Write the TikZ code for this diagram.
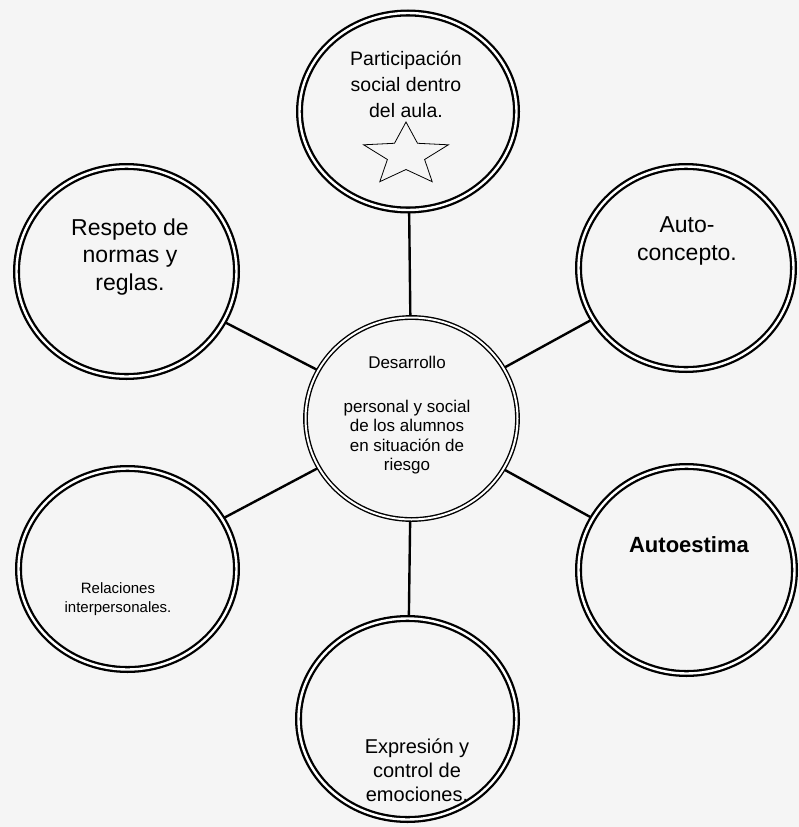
\documentclass[tikz,border=0pt]{standalone}
\usepackage{fontspec}
\setmainfont{Liberation Sans}
\usetikzlibrary{shapes.geometric}

\begin{document}
\begin{tikzpicture}[x=1pt, y=-1pt,
    ring/.style={draw, ellipse, line width=2.3pt, double=white, double distance=2.4pt,
      inner sep=0pt, outer sep=2.4pt},
    hub/.style={draw, ellipse, line width=1.4pt, double=white, double distance=2pt,
      inner sep=0pt, outer sep=2pt},
    spoke/.style={line width=2.4pt},
    lbl/.style={align=center, anchor=base, inner sep=0pt}]

  % page
  \fill[black!4] (0,0) rectangle (799,827);
  \useasboundingbox (0,0) rectangle (799,827);

  % rings
  \node[hub, minimum width=212pt, minimum height=202pt] (hub) at (411.5,418.5) {};
  \node[ring, minimum width=217pt, minimum height=197pt] (aula) at (408,111.5) {};
  \node[ring, minimum width=220pt, minimum height=210pt] (normas) at (126.5,271.5) {};
  \node[ring, minimum width=215pt, minimum height=203pt] (concepto) at (686,268) {};
  \node[ring, minimum width=216pt, minimum height=207pt] (estima) at (686.5,570) {};
  \node[ring, minimum width=218pt, minimum height=201pt] (relac) at (127.5,569) {};
  \node[ring, minimum width=218pt, minimum height=201pt] (emoc) at (407.5,719) {};

  \foreach \n in {aula,normas,concepto,estima,relac,emoc}
    \draw[spoke] (hub) -- (\n);

  % texts (base = last line)
  \node[lbl, font=\fontsize{17}{19.5}\selectfont] (hubT) at (407,470.5)
    {Desarrollo\\[24pt]personal y social\\de los alumnos\\en situación de\\riesgo};
  \node[lbl, font=\fontsize{19.5}{26}\selectfont] (aulaT) at (406,117)
    {Participación\\social dentro\\del aula.};
  \node[lbl, font=\fontsize{23}{27.5}\selectfont] (normasT) at (130,290)
    {Respeto de\\normas y\\reglas.};
  \node[lbl, font=\fontsize{23}{28}\selectfont] (conceptoT) at (687,260)
    {Auto-\\concepto.};
  \node[lbl, font=\fontsize{22}{26}\selectfont\bfseries] (estimaT) at (689,552)
    {Autoestima};
  \node[lbl, font=\fontsize{15}{18.5}\selectfont] (relacT) at (118,612)
    {Relaciones\\interpersonales.};
  \node[lbl, font=\fontsize{20}{24}\selectfont] (emocT) at (417,801)
    {Expresión y\\control de\\emociones.};

  % star
  \draw[line width=0.8pt] plot[samples at={0,...,9}, variable=\k]
    ({406+1.35*(mod(\k,2)==0 ? 33 : 14.5)*cos(-90+36*\k)},
     {155+(mod(\k,2)==0 ? 33 : 14.5)*sin(-90+36*\k)}) -- cycle;
\end{tikzpicture}
\end{document}
